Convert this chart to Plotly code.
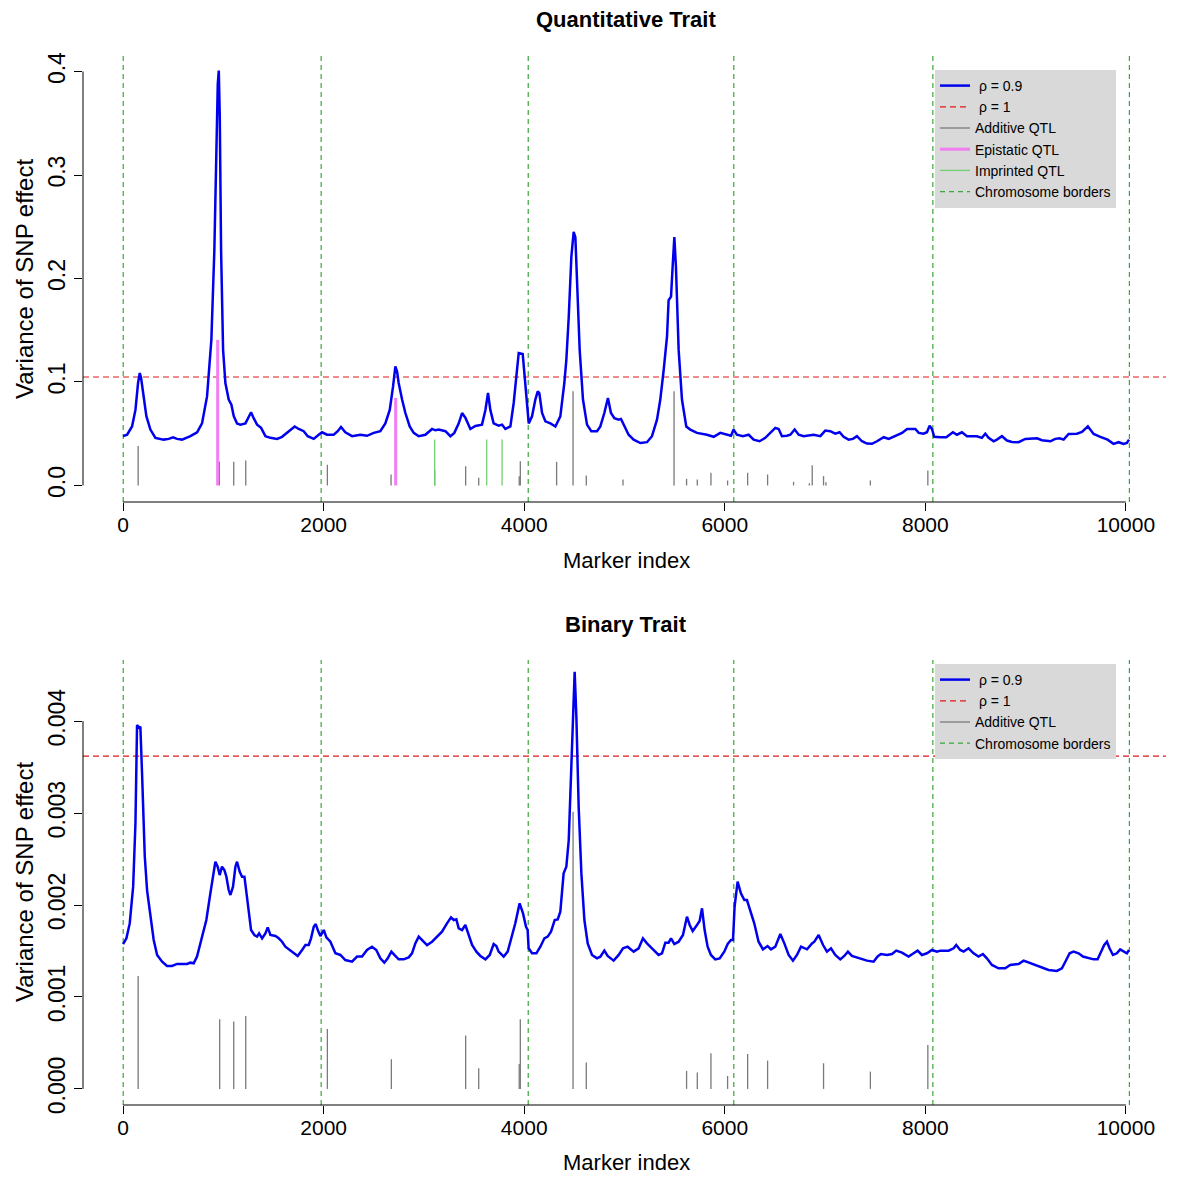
import plotly.graph_objects as go
from plotly.subplots import make_subplots

# ---------------- data: Quantitative trait ----------------
q_idx = [0, 40, 89, 123, 149, 166, 179, 206, 232, 272, 322, 405, 455, 498, 538, 588, 671, 738, 787, 837,
         880, 910, 930, 944, 954, 964, 977, 997, 1020, 1053, 1080, 1103, 1136, 1170, 1220, 1253, 1276, 1302,
         1336, 1376, 1419, 1469, 1535, 1585, 1635, 1685, 1711, 1751, 1801, 1841, 1901, 1950, 1984, 2033,
         2100, 2140, 2173, 2216, 2283, 2366, 2432, 2499, 2565, 2615, 2659, 2692, 2715, 2732, 2748, 2782,
         2815, 2858, 2898, 2948, 3014, 3081, 3114, 3147, 3214, 3264, 3303, 3347, 3380, 3413, 3463, 3513,
         3563, 3579, 3613, 3639, 3662, 3695, 3745, 3779, 3812, 3862, 3895, 3922, 3945, 3985, 4011, 4028,
         4045, 4078, 4111, 4135, 4151, 4178, 4211, 4261, 4311, 4360, 4400, 4420, 4444, 4470, 4493, 4510,
         4526, 4553, 4586, 4626, 4669, 4726, 4759, 4799, 4835, 4865, 4899, 4942, 4965, 4999, 5041, 5091,
         5158, 5224, 5274, 5324, 5357, 5391, 5424, 5440, 5464, 5480, 5497, 5513, 5540, 5573, 5616, 5656,
         5723, 5822, 5889, 5955, 6022, 6062, 6088, 6121, 6181, 6238, 6288, 6347, 6404, 6454, 6504, 6537,
         6570, 6620, 6654, 6697, 6737, 6786, 6886, 6953, 7002, 7052, 7102, 7145, 7185, 7235, 7278, 7318,
         7368, 7418, 7468, 7518, 7585, 7635, 7701, 7768, 7818, 7900, 7934, 7982, 8016, 8043, 8066, 8089,
         8149, 8209, 8275, 8315, 8365, 8415, 8514, 8564, 8598, 8631, 8681, 8714, 8764, 8814, 8864, 8930,
         8997, 9080, 9113, 9163, 9247, 9296, 9339, 9379, 9429, 9512, 9562, 9621, 9678, 9745, 9817, 9877,
         9927, 9977, 10010, 10031]
q_var = [0.0476, 0.049, 0.057, 0.073, 0.099, 0.1086, 0.104, 0.083, 0.067, 0.054, 0.046, 0.0443, 0.045,
         0.0466, 0.045, 0.0443, 0.0476, 0.0514, 0.060, 0.086, 0.1407, 0.2275, 0.324, 0.388, 0.401, 0.356,
         0.2275, 0.131, 0.099, 0.083, 0.078, 0.067, 0.0598, 0.0588, 0.060, 0.067, 0.0707, 0.065, 0.0588,
         0.0556, 0.0476, 0.046, 0.045, 0.047, 0.0508, 0.0546, 0.057, 0.0546, 0.0524, 0.0476, 0.045, 0.049,
         0.0514, 0.049, 0.049, 0.0524, 0.0565, 0.0514, 0.0476, 0.049, 0.048, 0.0508, 0.0524, 0.060, 0.073,
         0.0957, 0.115, 0.110, 0.099, 0.083, 0.070, 0.057, 0.0508, 0.0476, 0.049, 0.0546, 0.0533, 0.054,
         0.0524, 0.0476, 0.0508, 0.060, 0.070, 0.0655, 0.0546, 0.0575, 0.0585, 0.0588, 0.073, 0.0893,
         0.073, 0.060, 0.0578, 0.0588, 0.0546, 0.057, 0.0797, 0.105, 0.128, 0.127, 0.099, 0.0797, 0.060,
         0.0668, 0.083, 0.091, 0.089, 0.070, 0.062, 0.060, 0.057, 0.0668, 0.099, 0.1214, 0.163, 0.221,
         0.245, 0.240, 0.195, 0.131, 0.083, 0.0588, 0.0524, 0.0524, 0.057, 0.070, 0.0845, 0.070, 0.065,
         0.0636, 0.0643, 0.057, 0.049, 0.0443, 0.041, 0.0418, 0.0476, 0.0636, 0.083, 0.1118, 0.144, 0.179,
         0.1825, 0.2114, 0.240, 0.2114, 0.131, 0.083, 0.057, 0.054, 0.0508, 0.049, 0.047, 0.0508, 0.049,
         0.048, 0.054, 0.049, 0.0476, 0.049, 0.0443, 0.0427, 0.046, 0.0508, 0.0556, 0.0546, 0.0476, 0.048,
         0.049, 0.054, 0.049, 0.0476, 0.049, 0.0476, 0.053, 0.0524, 0.050, 0.0514, 0.047, 0.0443, 0.045,
         0.0476, 0.0427, 0.0405, 0.0402, 0.0427, 0.0466, 0.045, 0.0482, 0.0508, 0.0546, 0.0546, 0.0508,
         0.050, 0.0514, 0.0578, 0.0546, 0.047, 0.0466, 0.0466, 0.0514, 0.049, 0.0514, 0.0476, 0.0476,
         0.046, 0.050, 0.046, 0.0427, 0.0443, 0.0476, 0.0434, 0.042, 0.0418, 0.045, 0.045, 0.0456, 0.0437,
         0.0427, 0.045, 0.0456, 0.0443, 0.0498, 0.050, 0.0517, 0.0572, 0.0498, 0.047, 0.0443, 0.0402,
         0.0418, 0.0402, 0.0411, 0.0443]
q_rho1 = 0.1048

q_add_pos = [150, 960, 1103, 1223, 2037, 2672, 3107, 3416, 3546, 3950, 3961, 4323, 4487, 4619, 4985, 5494,
             5619, 5726, 5862, 6028, 6228, 6427, 6686, 6843, 6872, 6985, 7009, 7452, 8025]
q_add_eff = [0.038, 0.023, 0.023, 0.024, 0.020, 0.0106, 0.0147, 0.0186, 0.0074, 0.009, 0.0234, 0.0228,
             0.091, 0.0096, 0.0058, 0.091, 0.0064, 0.0058, 0.0122, 0.0048, 0.0122, 0.0106, 0.0035, 0.002,
             0.0196, 0.009, 0.003, 0.0048, 0.0145]
q_epi_pos = [943, 2718]
q_epi_eff = [0.1407, 0.0845]
q_imp_pos = [3107, 3626, 3779]
q_imp_eff = [0.0443, 0.0443, 0.0443]

# ---------------- data: Binary trait ----------------
b_idx = [0, 33, 66, 100, 123, 139, 159, 172, 189, 216, 239, 272, 305, 339, 389, 438, 488, 538, 588, 638,
         671, 704, 737, 787, 830, 870, 897, 920, 943, 963, 986, 1010, 1030, 1053, 1070, 1096, 1120, 1136,
         1163, 1186, 1210, 1229, 1253, 1276, 1309, 1336, 1356, 1386, 1419, 1442, 1469, 1519, 1552, 1585,
         1618, 1668, 1701, 1741, 1785, 1818, 1851, 1874, 1901, 1921, 1941, 1967, 2001, 2027, 2067, 2117,
         2167, 2216, 2283, 2333, 2383, 2432, 2482, 2525, 2565, 2605, 2639, 2675, 2705, 2748, 2798, 2848,
         2881, 2914, 2948, 2981, 3031, 3081, 3131, 3180, 3230, 3270, 3297, 3323, 3347, 3380, 3413, 3446,
         3480, 3523, 3563, 3613, 3656, 3695, 3722, 3745, 3795, 3835, 3878, 3911, 3954, 3988, 4018, 4034,
         4044, 4078, 4121, 4161, 4201, 4234, 4267, 4304, 4334, 4360, 4393, 4420, 4444, 4467, 4487, 4503,
         4520, 4543, 4570, 4600, 4633, 4676, 4726, 4759, 4799, 4832, 4892, 4942, 4985, 5031, 5091, 5141,
         5184, 5224, 5274, 5340, 5374, 5407, 5440, 5464, 5497, 5540, 5583, 5623, 5650, 5680, 5723, 5749,
         5773, 5799, 5829, 5862, 5905, 5949, 5995, 6029, 6062, 6082, 6098, 6128, 6161, 6195, 6221, 6254,
         6294, 6337, 6381, 6427, 6461, 6504, 6554, 6594, 6637, 6680, 6720, 6760, 6820, 6870, 6893, 6936,
         6980, 7019, 7059, 7102, 7152, 7192, 7228, 7268, 7318, 7368, 7418, 7484, 7524, 7557, 7617, 7668,
         7710, 7767, 7833, 7883, 7923, 7966, 8016, 8066, 8116, 8149, 8232, 8282, 8308, 8348, 8382, 8431,
         8481, 8531, 8574, 8614, 8664, 8730, 8797, 8846, 8930, 8980, 9030, 9096, 9163, 9229, 9312, 9362,
         9405, 9439, 9478, 9528, 9572, 9628, 9678, 9718, 9745, 9784, 9811, 9837, 9871, 9910, 9943, 9983,
         10010, 10031]
b_var = [0.001576, 0.001638, 0.0018, 0.0022, 0.00289, 0.003957, 0.00393, 0.00394, 0.00343, 0.00253,
         0.00216, 0.00191, 0.00162, 0.001457, 0.001384, 0.001337, 0.001337, 0.001359, 0.001359, 0.001359,
         0.001373, 0.001366, 0.00144, 0.001638, 0.001837, 0.002127, 0.002344, 0.002471, 0.002417, 0.002326,
         0.002417, 0.00238, 0.002308, 0.002163, 0.002109, 0.0022, 0.002417, 0.002471, 0.002362, 0.002308,
         0.002308, 0.002127, 0.001909, 0.001728, 0.001674, 0.001656, 0.001692, 0.001638, 0.001692,
         0.001757, 0.001674, 0.001663, 0.001638, 0.001601, 0.001547, 0.001504, 0.001475, 0.001446,
         0.001511, 0.001565, 0.001565, 0.001638, 0.001764, 0.001793, 0.001728, 0.001663, 0.001728,
         0.001649, 0.001601, 0.001475, 0.001457, 0.001402, 0.001384, 0.00144, 0.00144, 0.001511, 0.001547,
         0.001511, 0.00142, 0.001373, 0.00142, 0.001493, 0.001457, 0.001409, 0.001409, 0.001431, 0.001475,
         0.001583, 0.001656, 0.00162, 0.001565, 0.001601, 0.001656, 0.00171, 0.001801, 0.001866, 0.001837,
         0.001844, 0.001746, 0.001728, 0.001783, 0.001674, 0.001565, 0.001493, 0.001446, 0.001409,
         0.001457, 0.001576, 0.001554, 0.001493, 0.001438, 0.001493, 0.001656, 0.001801, 0.002018,
         0.001909, 0.001764, 0.001728, 0.001529, 0.001475, 0.001475, 0.001547, 0.001638, 0.001656, 0.00171,
         0.001837, 0.001844, 0.001928, 0.002344, 0.002417, 0.002707, 0.003359, 0.004083, 0.004536,
         0.004047, 0.003069, 0.002344, 0.001837, 0.001583, 0.001457, 0.00142, 0.001438, 0.001504, 0.001446,
         0.001395, 0.001457, 0.001529, 0.001547, 0.001493, 0.001529, 0.001638, 0.001583, 0.001529,
         0.001457, 0.001475, 0.001591, 0.001591, 0.001638, 0.001576, 0.001601, 0.001674, 0.001873,
         0.001783, 0.001717, 0.001783, 0.001826, 0.001964, 0.001728, 0.001547, 0.001457, 0.001409, 0.00142,
         0.001493, 0.001576, 0.00162, 0.00162, 0.001982, 0.002254, 0.002127, 0.002054, 0.002054, 0.001928,
         0.001801, 0.001601, 0.001518, 0.001554, 0.001518, 0.001547, 0.001685, 0.001583, 0.001457,
         0.001395, 0.001457, 0.001547, 0.001518, 0.001583, 0.001601, 0.001674, 0.001565, 0.001493,
         0.001529, 0.001457, 0.001409, 0.001446, 0.001493, 0.001446, 0.001431, 0.001409, 0.001395,
         0.001384, 0.00144, 0.001467, 0.001457, 0.001467, 0.001504, 0.001482, 0.00144, 0.001475, 0.001504,
         0.001457, 0.001475, 0.001511, 0.001493, 0.001504, 0.001504, 0.001529, 0.001565, 0.001511,
         0.001493, 0.001529, 0.001475, 0.00144, 0.001467, 0.00142, 0.001348, 0.001312, 0.001312, 0.001348,
         0.001359, 0.001395, 0.001373, 0.001348, 0.001322, 0.001293, 0.001283, 0.001312, 0.001402,
         0.001475, 0.001493, 0.001475, 0.00144, 0.00142, 0.001409, 0.001409, 0.001475, 0.001565, 0.001601,
         0.001529, 0.001457, 0.001475, 0.001518, 0.001493, 0.001475, 0.001511]
b_rho1 = 0.00362

b_add_pos = [150, 963, 1103, 1223, 2037, 2675, 3416, 3546, 3950, 3961, 4487, 4619, 5619, 5726, 5862, 6028,
             6228, 6427, 6985, 7452, 8025]
b_add_eff = [0.001228, 0.000757, 0.000732, 0.000793, 0.000652, 0.000322, 0.00058, 0.000225, 0.00027,
             0.000757, 0.003014, 0.000286, 0.000196, 0.000178, 0.000388, 0.000141, 0.00038, 0.000308,
             0.000279, 0.000188, 0.000478]

chrom_borders = [1, 1975, 4040, 6090, 8075, 10035]

x_ticks = [0, 2000, 4000, 6000, 8000, 10000]
x_tick_labels = ["0", "2000", "4000", "6000", "8000", "10000"]
q_y_ticks = [0, 0.1, 0.2, 0.3, 0.4]
q_y_labels = ["0.0", "0.1", "0.2", "0.3", "0.4"]
b_y_ticks = [0, 0.001, 0.002, 0.003, 0.004]
b_y_labels = ["0.000", "0.001", "0.002", "0.003", "0.004"]

# ---------------- styling ----------------
FONT = "Liberation Sans, Arial, Helvetica, sans-serif"
BLUE = "#0000ee"
RED = "#e01818"
GRAY = "#7a7a7a"
PINK = "#f27ef2"
LGREEN = "#72d072"
DGREEN = "#3aa63a"

# the page body adds an 8px offset; figure coordinates are screen coordinates minus 8
W, H = 1184, 1180
L, R, T, B = 75, 26, 47, 83
PW, PH = W - L - R, H - T - B


def pxx(px):  # screen x -> paper x
    return (px - 8 - L) / PW


def pxy(py):  # screen y -> paper y
    return (H - B - (py - 8)) / PH


def segs(pos, eff):
    xs, ys = [], []
    for p, e in zip(pos, eff):
        xs += [p, p, None]
        ys += [0, e, None]
    return xs, ys


fig = make_subplots(rows=2, cols=1)

# ---- top panel ----
fig.add_trace(go.Scatter(x=q_idx, y=q_var, mode="lines", line=dict(color=BLUE, width=2.5),
                         name="\u00a0\u03c1 = 0.9", legend="legend"), row=1, col=1)
fig.add_trace(go.Scatter(x=[None], y=[None], mode="lines", line=dict(color=RED, width=1.2, dash="6px,4px"),
                         name="\u00a0\u03c1 = 1", legend="legend"), row=1, col=1)
xs, ys = segs(q_add_pos, q_add_eff)
fig.add_trace(go.Scatter(x=xs, y=ys, mode="lines", line=dict(color=GRAY, width=1.3),
                         name="Additive QTL", legend="legend"), row=1, col=1)
xs, ys = segs(q_epi_pos, q_epi_eff)
fig.add_trace(go.Scatter(x=xs, y=ys, mode="lines", line=dict(color=PINK, width=3),
                         name="Epistatic QTL", legend="legend"), row=1, col=1)
xs, ys = segs(q_imp_pos, q_imp_eff)
fig.add_trace(go.Scatter(x=xs, y=ys, mode="lines", line=dict(color=LGREEN, width=1.3),
                         name="Imprinted QTL", legend="legend"), row=1, col=1)
fig.add_trace(go.Scatter(x=[None], y=[None], mode="lines", line=dict(color=DGREEN, width=1.2, dash="5px,4px"),
                         name="Chromosome borders", legend="legend"), row=1, col=1)

# ---- bottom panel ----
fig.add_trace(go.Scatter(x=b_idx, y=b_var, mode="lines", line=dict(color=BLUE, width=2.5),
                         name="\u00a0\u03c1 = 0.9", legend="legend2"), row=2, col=1)
fig.add_trace(go.Scatter(x=[None], y=[None], mode="lines", line=dict(color=RED, width=1.2, dash="6px,4px"),
                         name="\u00a0\u03c1 = 1", legend="legend2"), row=2, col=1)
xs, ys = segs(b_add_pos, b_add_eff)
fig.add_trace(go.Scatter(x=xs, y=ys, mode="lines", line=dict(color=GRAY, width=1.3),
                         name="Additive QTL", legend="legend2"), row=2, col=1)
fig.add_trace(go.Scatter(x=[None], y=[None], mode="lines", line=dict(color=DGREEN, width=1.2, dash="5px,4px"),
                         name="Chromosome borders", legend="legend2"), row=2, col=1)

# reference lines and R-style axis lines
for r, h, ytop in [(1, q_rho1, q_y_ticks[-1]), (2, b_rho1, b_y_ticks[-1])]:
    fig.add_hline(y=h, row=r, col=1, line=dict(color=RED, width=1.2, dash="6px,4px"), layer="below")
    for cb in chrom_borders:
        fig.add_vline(x=cb, row=r, col=1, line=dict(color=DGREEN, width=1.2, dash="5px,4px"), layer="below")
    xa = "x" if r == 1 else "x2"
    ya = "y" if r == 1 else "y2"
    fig.add_shape(type="line", xref=xa, yref=ya + " domain", x0=x_ticks[0], x1=x_ticks[-1], y0=0, y1=0,
                  line=dict(color="black", width=1))
    fig.add_shape(type="line", xref=xa + " domain", yref=ya, x0=0, x1=0, y0=0, y1=ytop,
                  line=dict(color="black", width=1))

axis_common = dict(showgrid=False, zeroline=False, showline=False, ticks="outside", ticklen=8,
                   tickwidth=1, tickcolor="black", automargin=False)
xaxis_common = dict(domain=[0, 1], range=[-400, 10400], tickvals=x_ticks, ticktext=x_tick_labels,
                    tickfont=dict(size=21), ticklabelstandoff=-4, **axis_common)

fig.update_layout(
    width=W, height=H,
    margin=dict(l=L, r=R, t=T, b=B),
    paper_bgcolor="white", plot_bgcolor="white",
    font=dict(family=FONT, color="black"),
    showlegend=True,
    xaxis=dict(**xaxis_common),
    yaxis=dict(domain=[pxy(502), 1.0], range=[-0.016, 0.416], tickvals=q_y_ticks,
               ticktext=q_y_labels, tickangle=-90, tickfont=dict(size=23), **axis_common),
    xaxis2=dict(**xaxis_common),
    yaxis2=dict(domain=[0, pxy(660)], range=[-0.000175, 0.004665], tickvals=b_y_ticks,
                ticktext=b_y_labels, tickangle=-90, tickfont=dict(size=23), **axis_common),
    legend=dict(x=pxx(935), y=pxy(70), xanchor="left", yanchor="top", bgcolor="#d9d9d9",
                borderwidth=0, font=dict(size=14, family=FONT), tracegroupgap=0, itemwidth=30),
    legend2=dict(x=pxx(935), y=pxy(664), xanchor="left", yanchor="top", bgcolor="#d9d9d9",
                 borderwidth=0, font=dict(size=14, family=FONT), tracegroupgap=0, itemwidth=30),
)

annots = [
    ("<b>Quantitative Trait</b>", 626, 20, 22, 0),
    ("<b>Binary Trait</b>", 626, 624, 22, 0),
    ("Marker index", 626, 560, 22, 0),
    ("Marker index", 626, 1162, 22, 0),
    ("Variance of SNP effect", 24, 279, 24, -90),
    ("Variance of SNP effect", 24, 882, 24, -90),
]
for text, x, y, size, ang in annots:
    fig.add_annotation(text=text, xref="paper", yref="paper", x=pxx(x), y=pxy(y), showarrow=False,
                       xanchor="center", yanchor="middle", textangle=ang,
                       font=dict(size=size, family=FONT, color="black"))

fig.write_html("out.html")
